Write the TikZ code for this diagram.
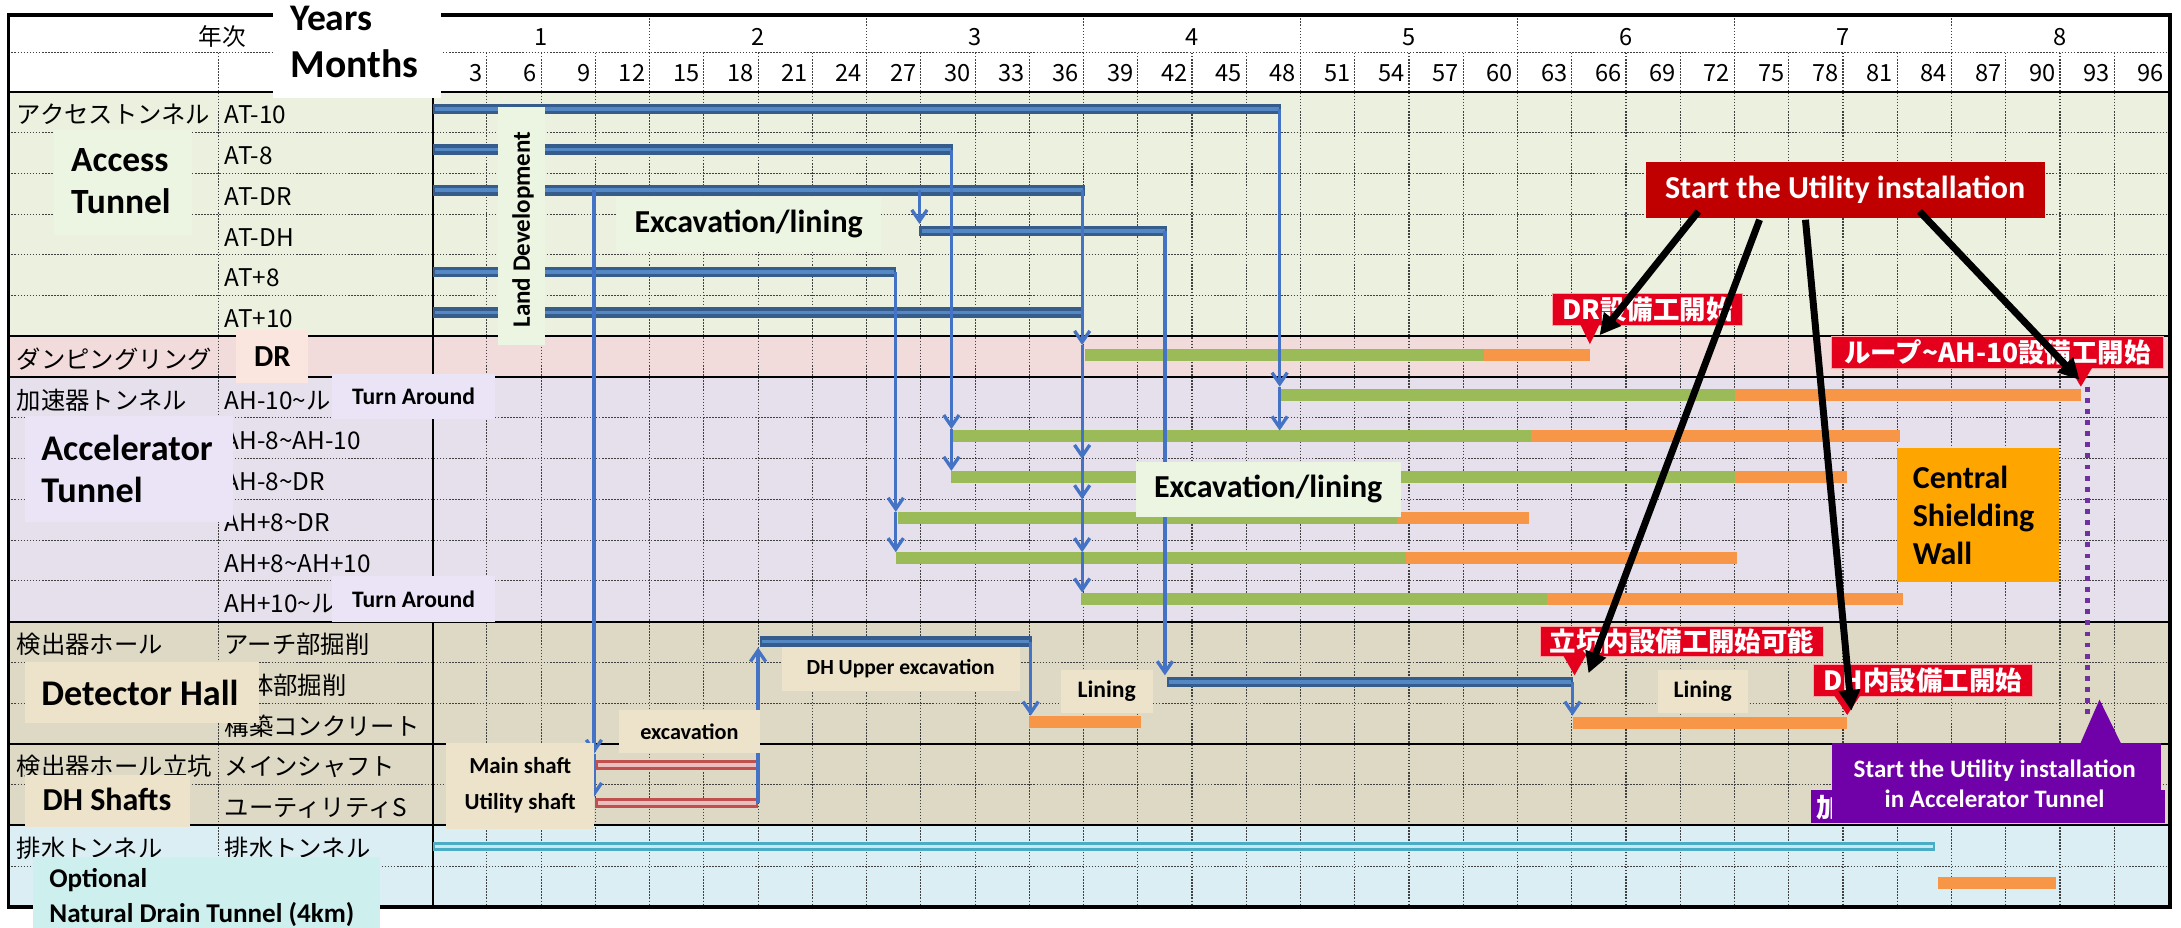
\documentclass[tikz,border=0pt]{standalone}
\usepackage{fontspec}
\setmainfont{Carlito}
\newfontfamily\jp{Noto Sans CJK JP}
\usetikzlibrary{arrows.meta}
\definecolor{bgAT}{RGB}{235,241,222}
\definecolor{bgDR}{RGB}{242,220,219}
\definecolor{bgAH}{RGB}{229,224,236}
\definecolor{bgDH}{RGB}{221,217,196}
\definecolor{bgDT}{RGB}{218,238,243}
\definecolor{cG}{RGB}{155,187,89}
\definecolor{cO}{RGB}{247,150,70}
\definecolor{cATo}{RGB}{54,92,140}
\definecolor{cATi}{RGB}{84,136,196}
\definecolor{cConn}{RGB}{68,114,196}
\definecolor{cSHo}{RGB}{192,80,77}
\definecolor{cSHi}{RGB}{236,190,190}
\definecolor{cDTo}{RGB}{75,172,198}
\definecolor{cDTi}{RGB}{200,232,240}
\definecolor{lblG}{RGB}{236,245,226}
\definecolor{lblP}{RGB}{234,228,246}
\definecolor{lblR}{RGB}{251,229,223}
\definecolor{lblT}{RGB}{236,227,202}
\definecolor{lblC}{RGB}{205,240,238}
\definecolor{cShield}{RGB}{255,165,0}
\definecolor{cDark}{RGB}{192,0,0}
\definecolor{cRed}{RGB}{228,0,28}
\definecolor{cPur}{RGB}{112,0,168}
\definecolor{cPurD}{RGB}{112,48,160}
\tikzset{
 grid/.style={draw=black!75, line width=0.8pt, dash pattern=on 1.1pt off 1.1pt},
 sepline/.style={draw=black, line width=1.4pt},
 lab/.style={anchor=base west, inner sep=0pt, font=\jp\fontsize{17.5}{19}\selectfont},
 num/.style={inner sep=0pt, font=\jp\fontsize{17}{19}\selectfont},
 gbar/.style={draw=cG, line width=8.5pt},
 obar/.style={draw=cO, line width=8.5pt},
 atout/.style={draw=cATo, line width=7.5pt},
 atin/.style={draw=cATi, line width=2.6pt},
 shout/.style={draw=cSHo, line width=7pt},
 shin/.style={draw=cSHi, line width=3pt},
 dtout/.style={draw=cDTo, line width=6pt},
 dtin/.style={draw=cDTi, line width=2.2pt},
 conn/.style={draw=cConn, line width=2.4pt, -{Straight Barb[length=8pt,width=11pt]}},
 en/.style={font=\bfseries\fontsize{#1}{#1}\selectfont},
 lbox/.style={inner sep=0pt, outer sep=0pt},
 callout/.style={fill=cRed, draw=red!35!white, line width=0.6pt, text=white, inner sep=0pt, font=\jp\bfseries\fontsize{19}{19}\selectfont},
 blk/.style={draw=black, line width=5pt, -{Triangle[length=15pt,width=15pt]}},
 pdots/.style={draw=cPurD, line width=3.5pt, dash pattern=on 3.5pt off 4.5pt},
}
\newcommand\dbar[5]{\draw[#1] (#3,#5) -- (#4,#5); \draw[#2] ({#3+1.6},#5) -- ({#4-1.6},#5);}
\begin{document}
\begin{tikzpicture}[x=1pt,y=-1pt]
\useasboundingbox (0,0) rectangle (1568,667);
\fill[white] (0,0) rectangle (1568,667);
% backgrounds
\fill[bgAT] (6,66) rectangle (1560,241.8);
\fill[bgDR] (6,241.8) rectangle (1560,271.1);
\fill[bgAH] (6,271.1) rectangle (1560,446.9);
\fill[bgDH] (6,446.9) rectangle (1560,593.4);
\fill[bgDT] (6,593.4) rectangle (1560,652);
% grid
\foreach \k in {1,...,31} \draw[grid] ({311+39*\k},38) -- ({311+39*\k},652);
\foreach \k in {1,...,7} \draw[grid] ({311+156*\k},11) -- ({311+156*\k},38);
\draw[grid] (157,38) -- (157,652);
\draw[grid] (6,38) -- (1560,38);
\foreach \i in {1,2,3,4,5,8,9,10,11,12,14,15,17,19} \draw[grid] (6,{66+29.3*\i}) -- (1560,{66+29.3*\i});
\foreach \i in {0,6,7,13,16,18} \draw[sepline] (6,{66+29.3*\i}) -- (1560,{66+29.3*\i});
\draw[sepline] (311,11) -- (311,652);
\draw[line width=2.6pt] (6,11) rectangle (1560,652);
% header
\node[num, anchor=base] (nenji) at (160,32.4) {年次};
\foreach \k in {1,...,8} \node[num, anchor=base] (yr\k) at ({311+156*\k-78},32.4) {\k};
\foreach \k in {1,...,32}{\pgfmathtruncatemacro\m{3*\k}\node[num, anchor=base east] (mo\k) at ({311+39*\k-3},58.7) {\m};}
% row labels
\node[lab] (g0) at (12,89) {アクセストンネル};
\node[lab] (r0) at (161.5,89) {AT-10};
\node[lab] (r1) at (161.5,118.3) {AT-8};
\node[lab] (r2) at (161.5,147.6) {AT-DR};
\node[lab] (r3) at (161.5,176.9) {AT-DH};
\node[lab] (r4) at (161.5,206.2) {AT+8};
\node[lab] (r5) at (161.5,235.5) {AT+10};
\node[lab] (g6) at (12,264.8) {ダンピングリング};
\node[lab] (g7) at (12,294.1) {加速器トンネル};
\begin{scope}
\clip (158,272) rectangle (239,300);
\node[lab] (r7) at (161.5,294.1) {AH-10\textasciitilde ル};
\end{scope}
\node[lab] (r8) at (161.5,323.4) {AH-8\textasciitilde AH-10};
\node[lab] (r9) at (161.5,352.7) {AH-8\textasciitilde DR};
\node[lab] (r10) at (161.5,382) {AH+8\textasciitilde DR};
\node[lab] (r11) at (161.5,411.3) {AH+8\textasciitilde AH+10};
\begin{scope}
\clip (158,418) rectangle (239,446);
\node[lab] (r12) at (161.5,440.6) {AH+10\textasciitilde ル};
\end{scope}
\node[lab] (g13) at (12,469.9) {検出器ホール};
\node[lab] (r13) at (161.5,469.9) {アーチ部掘削};
\node[lab] (r14) at (161.5,499.2) {本体部掘削};
\node[lab] (r15) at (161.5,528.5) {構築コンクリート};
\node[lab] (g16) at (12,557.8) {検出器ホール立坑};
\node[lab] (r16) at (161.5,557.8) {メインシャフト};
\node[lab] (r17) at (161.5,587.1) {ユーティリティS};
\node[lab] (g18) at (12,616.4) {排水トンネル};
\node[lab] (r18) at (161.5,616.4) {排水トンネル};
% access tunnel bars
\dbar{atout}{atin}{311}{921}{78.2}
\dbar{atout}{atin}{311}{685}{107.5}
\dbar{atout}{atin}{311}{780}{136.8}
\dbar{atout}{atin}{661}{839}{166.1}
\dbar{atout}{atin}{311}{644.5}{195.4}
\dbar{atout}{atin}{311}{779}{224.7}
% DR and accelerator bars
\draw[gbar] (780,254.95) -- (1067,254.95); \draw[obar] (1067,254.95) -- (1143,254.95);
\draw[gbar] (921,284.25) -- (1247,284.25); \draw[obar] (1247,284.25) -- (1496,284.25);
\draw[gbar] (685,313.55) -- (1101,313.55); \draw[obar] (1101,313.55) -- (1366,313.55);
\draw[gbar] (684,342.85) -- (1247,342.85); \draw[obar] (1247,342.85) -- (1328,342.85);
\draw[gbar] (645.5,372.15) -- (1004.5,372.15); \draw[obar] (1004.5,372.15) -- (1099,372.15);
\draw[gbar] (644,401.45) -- (1011,401.45); \draw[obar] (1011,401.45) -- (1249,401.45);
\draw[gbar] (777.5,430.75) -- (1112,430.75); \draw[obar] (1112,430.75) -- (1368,430.75);
% detector hall bars
\dbar{atout}{atin}{546.4}{741.6}{461.3}
\dbar{atout}{atin}{839}{1130.7}{490.4}
\draw[obar] (740,519) -- (820,519);
\draw[obar] (1130.7,519.5) -- (1328,519.5);
\dbar{shout}{shin}{428}{545}{550}
\dbar{shout}{shin}{428}{545}{577.5}
\dbar{dtout}{dtin}{311}{1391}{608.5}
\draw[obar] (1393.5,635) -- (1478,635);
% connectors
\coordinate (a10) at (920,78.2); \coordinate (a10b) at (920,278); \coordinate (a10c) at (920,309.5);
\draw[conn] (a10) -- (a10b); \draw[conn] (a10b) -- (a10c);
\coordinate (a8) at (684,107.5); \coordinate (a8b) at (684,308.5); \coordinate (a8c) at (684,338.5);
\draw[conn] (a8) -- (a8b); \draw[conn] (a8b) -- (a8c);
\coordinate (adr) at (778,136.8); \coordinate (adr1) at (778,248); \coordinate (adr2) at (778,330);
\coordinate (adr3) at (778,359); \coordinate (adr4) at (778,397); \coordinate (adr5) at (778,426);
\draw[conn] (adr) -- (adr1); \draw[conn] (adr1) -- (adr2); \draw[conn] (adr2) -- (adr3);
\draw[conn] (adr3) -- (adr4); \draw[conn] (adr4) -- (adr5);
\coordinate (ash) at (427,136.8); \coordinate (ash1) at (427,542); \coordinate (ash2) at (427,573);
\draw[conn] (ash) -- (ash1); \draw[conn] (ash1) -- (ash2);
\coordinate (adh) at (661,136.8); \coordinate (adh1) at (661,161);
\draw[conn] (adh) -- (adh1);
\coordinate (ap8) at (644,195.4); \coordinate (ap8b) at (644,368); \coordinate (ap8c) at (644,397);
\draw[conn] (ap8) -- (ap8b); \draw[conn] (ap8b) -- (ap8c);
\coordinate (adhv) at (837.5,166.1); \coordinate (adhv1) at (837.5,485.5);
\draw[conn] (adhv) -- (adhv1);
\coordinate (ut) at (545,577.5); \coordinate (ut1) at (545,465.5);
\draw[conn] (ut) -- (ut1);
\coordinate (ar) at (741,461.3); \coordinate (ar1) at (741,514.5);
\draw[conn] (ar) -- (ar1);
\coordinate (hb) at (1130.5,490.4); \coordinate (hb1) at (1130.5,514.5);
\draw[conn] (hb) -- (hb1);
% purple dotted
\coordinate (pd1) at (1501,278); \coordinate (pd2) at (1501,515);
\draw[pdots] (pd1) -- (pd2);
% label boxes
\node[lbox, fill=white, minimum width=120.5pt, minimum height=70.7pt] (yb) at (256.75,35.35) {};
\node[en=27, anchor=west, inner sep=0pt] (years) at (208.7,13.3) {Years};
\node[en=28.5, anchor=west, inner sep=0pt] (months) at (208.7,46) {Months};
\node[lbox, fill=lblG, minimum width=99pt, minimum height=75.5pt] (accb) at (88.5,131.25) {};
\node[font=\bfseries\fontsize{25.5}{30}\selectfont, align=left, anchor=west, inner sep=0pt] (acct) at (51,130) {Access\\Tunnel};
\node[lbox, fill=lblG, minimum width=34pt, minimum height=171.3pt] (ldb) at (375,162.35) {};
\node[en=18, rotate=90, inner sep=0pt] (ldt) at (376,165) {Land Development};
\node[lbox, fill=lblG, minimum width=190.5pt, minimum height=39.6pt, en=23] (exc1) at (538.25,161.2) {Excavation/lining};
\node[lbox, fill=lblR, minimum width=51.5pt, minimum height=38.6pt, en=22] (drb) at (195.75,256.3) {DR};
\node[lbox, fill=lblP, minimum width=116.7pt, minimum height=32.5pt, en=17] (ta1) at (297.35,285.15) {Turn Around};
\node[lbox, fill=lblP, minimum width=116.7pt, minimum height=32.9pt, en=17] (ta2) at (297.35,430.55) {Turn Around};
\node[lbox, fill=lblP, minimum width=149.9pt, minimum height=76pt] (accel) at (92.65,337) {};
\node[font=\bfseries\fontsize{26}{30}\selectfont, align=left, anchor=west, inner sep=0pt] (accelt) at (29.5,337.3) {Accelerator\\Tunnel};
\node[lbox, fill=lblG, minimum width=190.5pt, minimum height=39.5pt, en=23] (exc2) at (911.75,351.65) {Excavation/lining};
\node[lbox, fill=cShield, minimum width=116pt, minimum height=95.9pt] (csw) at (1422,370.25) {};
\node[font=\bfseries\fontsize{23}{27.5}\selectfont, align=left, anchor=west, inner sep=0pt] (cswt) at (1375,370.5) {Central\\Shielding\\Wall};
\node[lbox, fill=lblT, minimum width=168.3pt, minimum height=44.3pt] (dhb) at (101.85,497.85) {};
\node[en=26, anchor=west, inner sep=0pt] (dht) at (29.5,498.4) {Detector Hall};
\node[lbox, fill=lblT, minimum width=118.7pt, minimum height=37.3pt] (dsb) at (77.05,575.65) {};
\node[en=23, anchor=west, inner sep=0pt] (dst) at (30.5,575) {DH Shafts};
\node[lbox, fill=lblC, minimum width=249pt, minimum height=54pt] (opb) at (148.5,643) {};
\node[font=\bfseries\fontsize{19.5}{25.2}\selectfont, align=left, anchor=west, inner sep=0pt] (opt) at (35.3,645.2) {Optional\\Natural Drain Tunnel (4km)};
\node[lbox, fill=lblT, minimum width=106pt, minimum height=62pt] (shb) at (374,565) {};
\node[en=16.5, inner sep=0pt] (msh) at (374,550) {Main shaft};
\node[en=16.5, inner sep=0pt] (ush) at (374,577.5) {Utility shaft};
\node[lbox, fill=lblT, minimum width=101.4pt, minimum height=31.1pt, en=16] (exb) at (495.7,525.95) {excavation};
\node[lbox, fill=lblT, minimum width=171pt, minimum height=31.6pt, en=15.5] (dhu) at (647.5,480.7) {DH Upper excavation};
\node[lbox, fill=lblT, minimum width=66.2pt, minimum height=31.1pt, en=17] (ln1) at (795.6,497.25) {Lining};
\node[lbox, fill=lblT, minimum width=64.6pt, minimum height=31.1pt, en=17] (ln2) at (1224.1,497.25) {Lining};
% red callouts
\node[callout, minimum width=137pt, minimum height=22.6pt] (cdr) at (1184.5,222.3) {DR設備工開始};
\fill[cRed] (1136,233) -- (1150,233) -- (1143,247.5) -- cycle;
\node[callout, minimum width=238pt, minimum height=23pt] (cloop) at (1436,253.5) {ループ\textasciitilde AH-10設備工開始};
\fill[cRed] (1488,264.5) -- (1504,264.5) -- (1496,278) -- cycle;
\node[callout, minimum width=203.8pt, minimum height=21.5pt] (csh) at (1209.3,461.25) {立坑内設備工開始可能};
\fill[cRed] (1124,471.5) -- (1140,471.5) -- (1132,485.5) -- cycle;
\node[callout, minimum width=157.7pt, minimum height=22.9pt] (cdh) at (1382.35,489.45) {DH内設備工開始};
\fill[cRed] (1319,500.5) -- (1337,500.5) -- (1328,514) -- cycle;
% purple callouts
\node[lbox, fill=cPur, minimum width=254.8pt, minimum height=24pt] (pb) at (1429.1,580) {};
\node[anchor=west, inner sep=0pt, text=white, font=\jp\bfseries\fontsize{19}{19}\selectfont] (pbt) at (1306,580.5) {加};
\node[lbox, fill=cPur, minimum width=236.9pt, minimum height=57.5pt] (pf) at (1435.25,563.15) {};
\fill[cPur] (1495.4,535) -- (1525.1,535) -- (1509.4,503) -- cycle;
\node[font=\bfseries\fontsize{18}{21.5}\selectfont, align=center, text=white, inner sep=0pt] (pft) at (1434,563.2) {Start the Utility installation\\in Accelerator Tunnel};
% start box and black arrows
\node[lbox, fill=cDark, minimum width=287pt, minimum height=39.8pt, text=white, en=23] (start) at (1326.5,136.6) {Start the Utility installation};
\coordinate (s1) at (1221,152); \coordinate (t1) at (1150,241);
\coordinate (s2) at (1265,158); \coordinate (t2) at (1142,484);
\coordinate (s3) at (1298,158); \coordinate (t3) at (1331,511);
\coordinate (s4) at (1380,152); \coordinate (t4) at (1495,273);
\draw[blk] (s1) -- (t1);
\draw[blk] (s2) -- (t2);
\draw[blk] (s3) -- (t3);
\draw[blk] (s4) -- (t4);
\end{tikzpicture}
\end{document}
